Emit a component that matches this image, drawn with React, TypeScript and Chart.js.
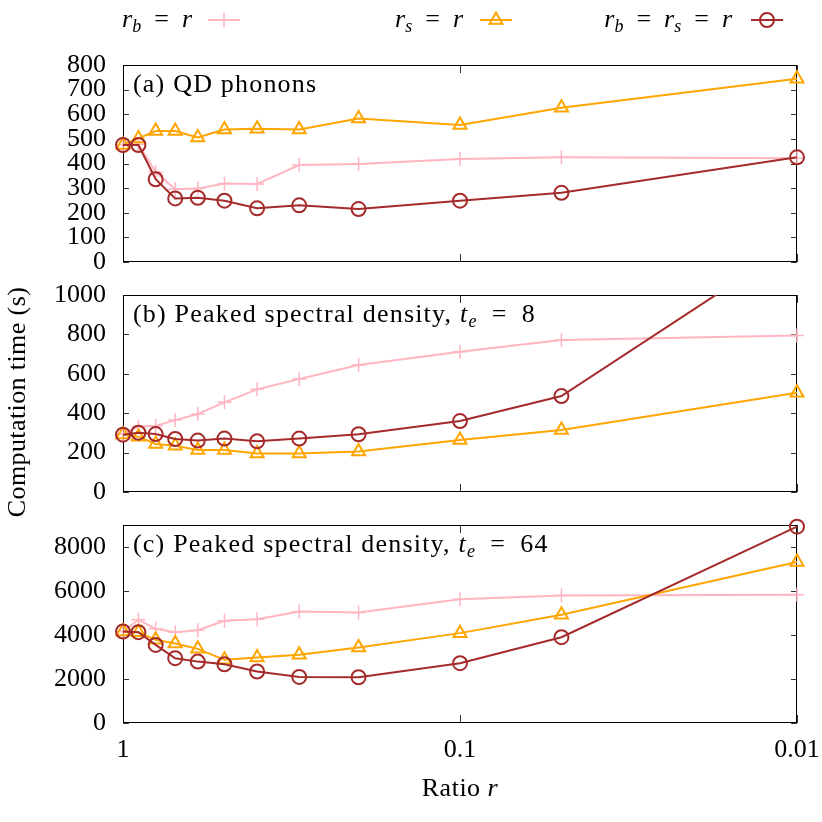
import React, { useEffect, useRef } from 'react';
import { Chart, registerables } from 'chart.js';

Chart.register(...registerables);

// ---------- data ----------
const ratios = [1, 0.9, 0.8, 0.7, 0.6, 0.5, 0.4, 0.3, 0.2, 0.1, 0.05, 0.01];
const xTickLabels = ['1', '0.1', '0.01'];

// (a) QD phonons
const qdRb = [475, 478, 365, 295, 298, 319, 317, 394, 398, 418, 425, 421];
const qdRs = [475, 502, 532, 532, 506, 538, 541, 538, 583, 556, 626, 744];
const qdBoth = [475, 475, 336, 258, 261, 249, 218, 230, 215, 249, 281, 425];
const qdTicks = [0, 100, 200, 300, 400, 500, 600, 700, 800];

// (b) Peaked spectral density, t_e = 8
const te8Rb = [295, 332, 335, 365, 396, 455, 521, 574, 645, 712, 772, 795];
const te8Rs = [292, 281, 244, 235, 213, 213, 196, 196, 205, 264, 315, 504];
const te8Both = [291, 301, 294, 269, 261, 271, 257, 271, 293, 360, 487, 1270];
const te8Ticks = [0, 200, 400, 600, 800, 1000];

// (c) Peaked spectral density, t_e = 64
const te64Rb = [4160, 4690, 4280, 4130, 4220, 4645, 4720, 5070, 5025, 5630, 5800, 5830];
const te64Rs = [4160, 4130, 3780, 3610, 3370, 2870, 2975, 3100, 3430, 4085, 4920, 7320];
const te64Both = [4160, 4130, 3550, 2945, 2790, 2670, 2340, 2095, 2080, 2720, 3900, 8925];
const te64Ticks = [0, 2000, 4000, 6000, 8000];

const seriesLabels = ['r_b = r', 'r_s = r', 'r_b = r_s = r'];

// ---------- styles ----------
const FONT = '"Liberation Serif", "DejaVu Serif", serif';
const FS = 26;
const PINK = '#ffb6c1';
const ORANGE = '#ffa500';
const RED = '#a52a2a';
const EQ = '\u2002=\u2002';
const R_CROSS = 7;
const R_TRI = 7.5;
const R_CIRC = 7;

Chart.defaults.font.family = FONT;
Chart.defaults.color = '#000';

type Seg = { t: string; it?: boolean; sub?: boolean };

function segFont(s: Seg, size: number) {
  return `${s.it ? 'italic ' : ''}${s.sub ? Math.round(size * 0.7) : size}px ${FONT}`;
}

function drawRich(ctx: CanvasRenderingContext2D, segs: Seg[], x: number, y: number, size: number, align: 'left' | 'right' | 'center' = 'left', spacing = 0) {
  ctx.save();
  ctx.fillStyle = '#000';
  ctx.textAlign = 'left';
  ctx.textBaseline = 'alphabetic';
  (ctx as any).letterSpacing = `${spacing}px`;
  let w = 0;
  for (const s of segs) {
    ctx.font = segFont(s, size);
    w += ctx.measureText(s.t).width;
  }
  let cx = align === 'left' ? x : align === 'right' ? x - w : x - w / 2;
  for (const s of segs) {
    ctx.font = segFont(s, size);
    ctx.fillText(s.t, cx, s.sub ? y + size * 0.2 : y);
    cx += ctx.measureText(s.t).width;
  }
  ctx.restore();
}

function drawMarker(ctx: CanvasRenderingContext2D, style: string, x: number, y: number, r: number, color: string) {
  ctx.save();
  ctx.strokeStyle = color;
  ctx.lineWidth = style === 'cross' ? 1.5 : 2;
  ctx.beginPath();
  if (style === 'cross') {
    ctx.moveTo(x - r, y); ctx.lineTo(x + r, y);
    ctx.moveTo(x, y - r); ctx.lineTo(x, y + r);
  } else if (style === 'triangle') {
    for (let k = 0; k < 3; k++) {
      const a = (k * 2 * Math.PI) / 3;
      const px = x + Math.sin(a) * r;
      const py = y - Math.cos(a) * r;
      if (k === 0) ctx.moveTo(px, py); else ctx.lineTo(px, py);
    }
    ctx.closePath();
  } else {
    ctx.arc(x, y, r, 0, Math.PI * 2);
  }
  ctx.stroke();
  ctx.restore();
}

function parseMath(label: string): Seg[] {
  const segs: Seg[] = [];
  label.split(' = ').forEach((part, i) => {
    if (i > 0) segs.push({ t: EQ });
    const [base, sub] = part.split('_');
    segs.push({ t: base, it: true });
    if (sub) segs.push({ t: sub, it: true, sub: true });
  });
  return segs;
}

// ---------- plugins ----------
const framePlugin = {
  id: 'gnuFrame',
  beforeDatasetsDraw(chart: any) {
    const { ctx, chartArea: a, scales } = chart;
    ctx.save();
    ctx.strokeStyle = '#333';
    ctx.lineWidth = 1;
    const line = (x1: number, y1: number, x2: number, y2: number) => {
      ctx.beginPath(); ctx.moveTo(x1, y1); ctx.lineTo(x2, y2); ctx.stroke();
    };
    const ys = scales.y;
    ys.ticks.forEach((t: any) => {
      const py = Math.round(ys.getPixelForValue(t.value)) + 0.5;
      line(a.left, py, a.left + 6, py);
      line(a.right, py, a.right - 6, py);
    });
    const xs = scales.x;
    xs.ticks.forEach((t: any) => {
      const e = Math.round(Math.log10(t.value));
      const major = Math.abs(t.value / Math.pow(10, e) - 1) < 1e-6;
      const len = major ? 8 : 4;
      const px = Math.round(xs.getPixelForValue(t.value)) + 0.5;
      line(px, a.bottom, px, a.bottom - len);
      line(px, a.top, px, a.top + len);
    });
    ctx.strokeStyle = '#000';
    ctx.strokeRect(a.left + 0.5, a.top + 0.5, a.right - a.left - 1, a.bottom - a.top - 1);
    ctx.restore();
  },
  afterDraw(chart: any) {
    const o = chart.options.plugins.gnuFrame || {};
    const { ctx, chartArea: a } = chart;
    if (o.title) drawRich(ctx, o.title, a.left + 10, a.top + 27, FS, 'left', 1.2);
    if (o.legend) {
      const ends = [192, 463, 732];
      const samples = [[208, 240], [480, 512], [751, 783]];
      const colors = [PINK, ORANGE, RED];
      const styles = ['cross', 'triangle', 'circle'];
      const radii = [R_CROSS, R_TRI, R_CIRC];
      const ly = 20;
      seriesLabels.forEach((lab, i) => {
        drawRich(ctx, parseMath(lab), ends[i], ly + 7, FS, 'right');
        ctx.save();
        ctx.strokeStyle = colors[i];
        ctx.lineWidth = 2;
        ctx.beginPath();
        ctx.moveTo(samples[i][0], ly);
        ctx.lineTo(samples[i][1], ly);
        ctx.stroke();
        ctx.restore();
        drawMarker(ctx, styles[i], (samples[i][0] + samples[i][1]) / 2, ly, radii[i], colors[i]);
      });
    }
    if (o.yTitle) {
      ctx.save();
      ctx.translate(18, 402);
      ctx.rotate(-Math.PI / 2);
      ctx.font = `${FS}px ${FONT}`;
      (ctx as any).letterSpacing = '0.4px';
      ctx.fillStyle = '#000';
      ctx.textAlign = 'center';
      ctx.textBaseline = 'middle';
      ctx.fillText('Computation time (s)', 0, 0);
      ctx.restore();
    }
    if (o.xTitle) {
      drawRich(ctx, [{ t: 'Ratio ' }, { t: 'r', it: true }], (a.left + a.right) / 2, 796, FS, 'center', 0.5);
    }
  },
};

// ---------- chart config ----------
function dataset(label: string, values: number[], color: string, style: string, radius: number, order: number, clip: any) {
  return {
    label,
    data: ratios.map((r, i) => ({ x: r, y: values[i] })),
    borderColor: color,
    backgroundColor: color,
    borderWidth: 2,
    pointStyle: style,
    pointRadius: radius,
    pointHoverRadius: radius,
    pointBorderColor: color,
    pointBackgroundColor: 'rgba(0,0,0,0)',
    pointBorderWidth: style === 'cross' ? 1.5 : 2,
    tension: 0,
    order,
    clip,
  };
}

type PanelSpec = {
  rb: number[];
  rs: number[];
  both: number[];
  yMax: number;
  yTicks: number[];
  top: number;
  bottom: number;
  showX: boolean;
  title: Seg[];
  legend?: boolean;
  yTitle?: boolean;
  clipTop: number;
};

function makeConfig(p: PanelSpec): any {
  const clip = { left: 12, right: 12, top: p.clipTop, bottom: 12 };
  const xH = p.showX ? 60 : 0;
  return {
    type: 'line',
    data: {
      datasets: [
        dataset(seriesLabels[0], p.rb, PINK, 'cross', R_CROSS, 3, clip),
        dataset(seriesLabels[1], p.rs, ORANGE, 'triangle', R_TRI, 2, clip),
        dataset(seriesLabels[2], p.both, RED, 'circle', R_CIRC, 1, clip),
      ],
    },
    options: {
      responsive: false,
      maintainAspectRatio: false,
      animation: false,
      events: [],
      layout: { padding: { left: 0, right: 25, top: p.top, bottom: 822 - p.bottom - xH } },
      plugins: {
        legend: { display: false },
        tooltip: { enabled: false },
        gnuFrame: { title: p.title, legend: p.legend, yTitle: p.yTitle, xTitle: p.showX },
      },
      scales: {
        x: {
          type: 'logarithmic',
          reverse: true,
          min: 0.01,
          max: 1,
          display: p.showX,
          afterFit: (s: any) => {
            s.height = xH;
            s.paddingLeft = 0;
            s.paddingRight = 0;
          },
          grid: { display: false, drawTicks: false },
          border: { display: false },
          ticks: {
            autoSkip: false,
            maxRotation: 0,
            padding: 12,
            color: '#000',
            font: { family: FONT, size: FS },
            callback: (v: number) => {
              const e = Math.round(-Math.log10(v));
              return Math.abs(v / Math.pow(10, -e) - 1) < 1e-6 ? xTickLabels[e] : null;
            },
          },
        },
        y: {
          type: 'linear',
          min: 0,
          max: p.yMax,
          afterFit: (s: any) => {
            s.width = 123;
            s.paddingTop = 0;
            s.paddingBottom = 0;
          },
          afterBuildTicks: (s: any) => { s.ticks = p.yTicks.map((v) => ({ value: v })); },
          grid: { display: false, drawTicks: false },
          border: { display: false },
          ticks: {
            autoSkip: false,
            padding: 17,
            color: '#000',
            font: { family: FONT, size: FS },
            callback: (v: number) => String(v),
          },
        },
      },
    },
    plugins: [framePlugin],
  };
}

const panels: PanelSpec[] = [
  {
    rb: qdRb, rs: qdRs, both: qdBoth, yMax: 800, yTicks: qdTicks, top: 65, bottom: 262, showX: false,
    title: [{ t: '(a) QD phonons' }], legend: true, clipTop: 12,
  },
  {
    rb: te8Rb, rs: te8Rs, both: te8Both, yMax: 1000, yTicks: te8Ticks, top: 295, bottom: 492, showX: false,
    title: [{ t: '(b) Peaked spectral density, ' }, { t: 't', it: true }, { t: 'e', it: true, sub: true }, { t: EQ + '8' }],
    yTitle: true, clipTop: 0,
  },
  {
    rb: te64Rb, rs: te64Rs, both: te64Both, yMax: 9000, yTicks: te64Ticks, top: 525, bottom: 723, showX: true,
    title: [{ t: '(c) Peaked spectral density, ' }, { t: 't', it: true }, { t: 'e', it: true, sub: true }, { t: EQ + '64' }],
    clipTop: 12,
  },
];

function Panel({ spec }: { spec: PanelSpec }) {
  const ref = useRef<HTMLCanvasElement>(null);
  useEffect(() => {
    if (!ref.current) return;
    const chart = new Chart(ref.current, makeConfig(spec));
    return () => chart.destroy();
  }, [spec]);
  return <canvas ref={ref} width={822} height={822} style={{ position: 'absolute', left: 0, top: 0 }} />;
}

export default function App() {
  return (
    <div style={{ position: 'fixed', left: 0, top: 0, width: 822, height: 822, background: '#fff' }}>
      {panels.map((p, i) => (
        <Panel key={i} spec={p} />
      ))}
    </div>
  );
}
